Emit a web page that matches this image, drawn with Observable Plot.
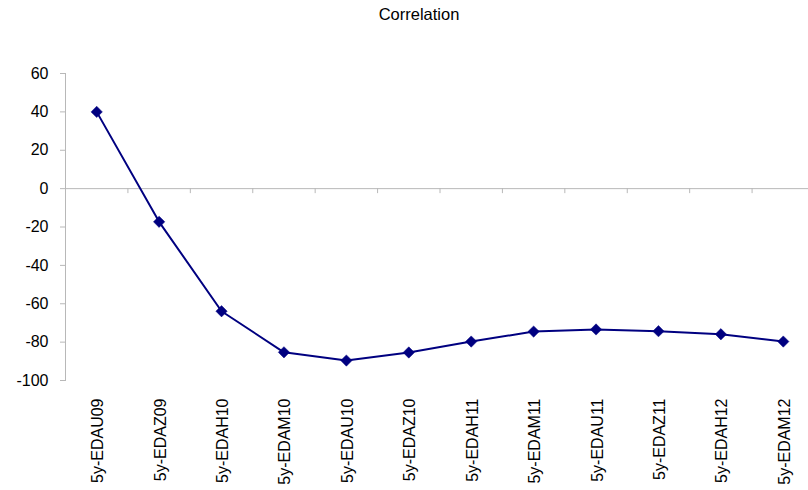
<!DOCTYPE html>
<html>
<head>
<meta charset="utf-8">
<script src="https://cdn.jsdelivr.net/npm/d3@7"></script>
<script src="https://cdn.jsdelivr.net/npm/@observablehq/plot@0.6"></script>
<style>
  html, body { margin: 0; padding: 0; background: #fff; }
  #wrap { position: relative; width: 808px; height: 490px; font-family: Arial, "Liberation Sans", sans-serif; }
  #title { position: absolute; left: 0; top: 4px; width: 838px; text-align: center; font-size: 16.5px; line-height: 20px; color: #000; }
  #chart { position: absolute; left: 0; top: 0; }
</style>
</head>
<body>
<div id="wrap">
  <div id="chart"></div>
  <div id="title">Correlation</div>
</div>
<script>
const categories = ["5y-EDAU09", "5y-EDAZ09", "5y-EDAH10", "5y-EDAM10", "5y-EDAU10", "5y-EDAZ10",
                    "5y-EDAH11", "5y-EDAM11", "5y-EDAU11", "5y-EDAZ11", "5y-EDAH12", "5y-EDAM12"];
const values = [40, -17.3, -63.9, -85.3, -89.6, -85.4, -79.7, -74.5, -73.4, -74.3, -75.9, -79.7];
const yTicks = [-100, -80, -60, -40, -20, 0, 20, 40, 60];

const data = categories.map((c, i) => ({cat: c, idx: i + 0.5, value: values[i]}));
const bounds = d3.range(1, categories.length);
const gray = "#b8b8b8";
const navy = "#000080";
const font = "Arial, 'Liberation Sans', sans-serif";

const chart = Plot.plot({
  width: 808,
  height: 490,
  marginTop: 73,
  marginBottom: 110,
  marginLeft: 65,
  marginRight: 0,
  style: {fontFamily: font, background: "#fff", overflow: "visible"},
  x: {type: "linear", domain: [0, categories.length], range: [65, 814], axis: null, label: null},
  y: {domain: [-100, 60], ticks: yTicks, axis: null, label: null},
  marks: [
    Plot.frame({anchor: "left", stroke: gray, strokeWidth: 1}),
    Plot.ruleY([0], {stroke: gray, strokeWidth: 1}),
    Plot.ruleX(bounds, {x: d => d, y1: 0, y2: 0, insetBottom: -5, stroke: gray, strokeWidth: 1}),
    Plot.axisY(yTicks, {tickSize: 5, text: null, label: null, stroke: gray, strokeWidth: 1}),
    Plot.axisY(yTicks, {tickSize: 0, tickPadding: 17, label: null, tickFormat: d => String(d),
                        fill: "#000", fontSize: 16, fontFamily: font}),
    Plot.line(data, {x: "idx", y: "value", stroke: navy, strokeWidth: 2}),
    Plot.dot(data, {x: "idx", y: "value", symbol: "diamond2", r: 5.1, fill: navy, stroke: navy, strokeWidth: 0.5}),
    Plot.text(data, {x: "idx", text: "cat", frameAnchor: "bottom", dy: 18, dx: 6.5, rotate: -90,
                     textAnchor: "end", fontSize: 16, fontFamily: font, fill: "#000"})
  ]
});
document.getElementById("chart").appendChild(chart);
</script>
</body>
</html>
